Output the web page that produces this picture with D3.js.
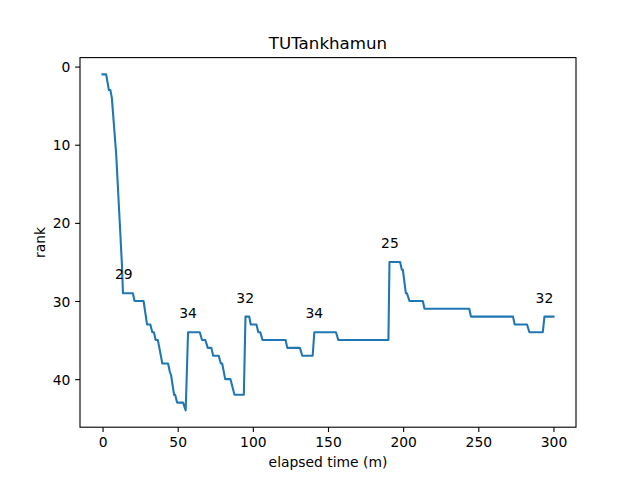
<!DOCTYPE html>
<html>
<head>
<meta charset="utf-8">
<script src="https://cdn.jsdelivr.net/npm/d3@7/dist/d3.min.js"></script>
<style>
  html, body { margin: 0; padding: 0; background: #fff; }
  svg { display: block; font-family: "DejaVu Sans", sans-serif; }
</style>
</head>
<body>
<svg id="chart" width="640" height="480"></svg>
<script>
// elapsed time (minutes) and rank samples
const times = [0, 2.4, 4.2, 5.2, 6.2, 9.1, 12, 12.9, 13.6, 20.2, 21.3, 27.3, 29.6, 31.8, 33.1, 34.2,
  35.3, 36.8, 39.8, 43.6, 44.7, 45.6, 47.6, 48.3, 49.6, 53.6, 55.3, 56.9, 64.7, 66.2, 68.4, 70,
  72.4, 73.6, 77.3, 78.7, 79.6, 81.6, 85.1, 87.8, 94, 95.1, 97.6, 98.6, 102.4, 103.6, 105, 106.4,
  121.8, 122.9, 131.3, 132.9, 139.8, 140.9, 155.3, 156.9, 190.2, 190.9, 198, 199.1, 199.8, 201.8,
  202.5, 204.2, 213.1, 214.2, 244, 245.1, 273.1, 274.2, 282.4, 284, 292.9, 294, 300];
const ranks = [1, 1, 3, 3, 4, 11.3, 22, 25.4, 29, 29, 30, 30, 33, 33, 34, 34,
  35, 35, 38, 38, 39, 39.5, 42, 42, 43, 43, 44, 34, 34, 35, 35, 36,
  36, 37, 37, 38, 38, 40, 40, 42, 42, 32, 32, 33, 33, 34, 34, 35,
  35, 36, 36, 37, 37, 34, 34, 35, 35, 25, 25, 26, 26, 29,
  29, 30, 30, 31, 31, 32, 32, 33, 33, 34, 34, 32, 32];

// annotated peaks
const peakTimes = [14.2, 56.9, 94.9, 140.9, 191.2, 294];
const peakRanks = [29, 34, 32, 34, 25, 32];

const xTicks = [0, 50, 100, 150, 200, 250, 300];
const yTicks = [0, 10, 20, 30, 40];

const titleText = "TUTankhamun";
const xLabel = "elapsed time (m)";
const yLabel = "rank";

(function () {
const W = 640, H = 480;
const mLeft = 80, mRight = 576, mTop = 57.6, mBottom = 427.2;
const svg = d3.select("#chart");

const data = times.map((t, i) => ({ t, r: ranks[i] }));
const tMin = d3.min(times), tMax = d3.max(times);
const rMin = d3.min(ranks), rMax = d3.max(ranks);
const tPad = (tMax - tMin) * 0.05, rPad = (rMax - rMin) * 0.05;

const x = d3.scaleLinear().domain([tMin - tPad, tMax + tPad]).range([mLeft, mRight]);
const y = d3.scaleLinear().domain([rMin - rPad, rMax + rPad]).range([mTop, mBottom]); // inverted: rank 0 at top

// line
svg.append("path")
  .datum(data)
  .attr("fill", "none")
  .attr("stroke", "#1f77b4")
  .attr("stroke-width", 2.08)
  .attr("stroke-linejoin", "round")
  .attr("stroke-linecap", "square")
  .attr("d", d3.line().x(d => x(d.t)).y(d => y(d.r)));

// annotations
svg.append("g").selectAll("text")
  .data(peakTimes.map((t, i) => ({ t, r: peakRanks[i] })))
  .join("text")
  .attr("x", d => x(d.t))
  .attr("y", d => y(d.r) - 13.9)
  .attr("text-anchor", "middle")
  .attr("font-size", "13.89px")
  .attr("fill", "#000")
  .text(d => String(d.r));

// axes
const xAxis = d3.axisBottom(x).tickValues(xTicks).tickSize(4.86).tickPadding(4.86).tickFormat(d3.format("d"));
const yAxis = d3.axisLeft(y).tickValues(yTicks).tickSize(4.86).tickPadding(4.86).tickFormat(d3.format("d"));

const gx = svg.append("g").attr("transform", `translate(0,${mBottom})`).call(xAxis);
const gy = svg.append("g").attr("transform", `translate(${mLeft},0)`).call(yAxis);
[gx, gy].forEach(g => {
  g.select(".domain").remove();
  g.selectAll(".tick line").attr("stroke", "#000").attr("stroke-width", 1.1);
  g.selectAll(".tick text").attr("font-size", "13.89px").attr("fill", "#000")
    .attr("font-family", "DejaVu Sans, sans-serif");
});
gx.selectAll(".tick text").attr("dy", null).attr("y", 20.2);
gy.selectAll(".tick text").attr("dy", "0.36em");

// frame
svg.append("rect")
  .attr("x", mLeft).attr("y", mTop)
  .attr("width", mRight - mLeft).attr("height", mBottom - mTop)
  .attr("fill", "none").attr("stroke", "#000").attr("stroke-width", 1.1);

// labels
svg.append("text")
  .attr("x", (mLeft + mRight) / 2).attr("y", 466.5)
  .attr("text-anchor", "middle").attr("font-size", "13.89px").attr("fill", "#000")
  .text(xLabel);

svg.append("text")
  .attr("transform", `translate(45,${(mTop + mBottom) / 2}) rotate(-90)`)
  .attr("text-anchor", "middle").attr("font-size", "13.89px").attr("fill", "#000")
  .text(yLabel);

svg.append("text")
  .attr("x", (mLeft + mRight) / 2).attr("y", 49.3)
  .attr("text-anchor", "middle").attr("font-size", "16.67px").attr("fill", "#000")
  .text(titleText);
})();
</script>
</body>
</html>
